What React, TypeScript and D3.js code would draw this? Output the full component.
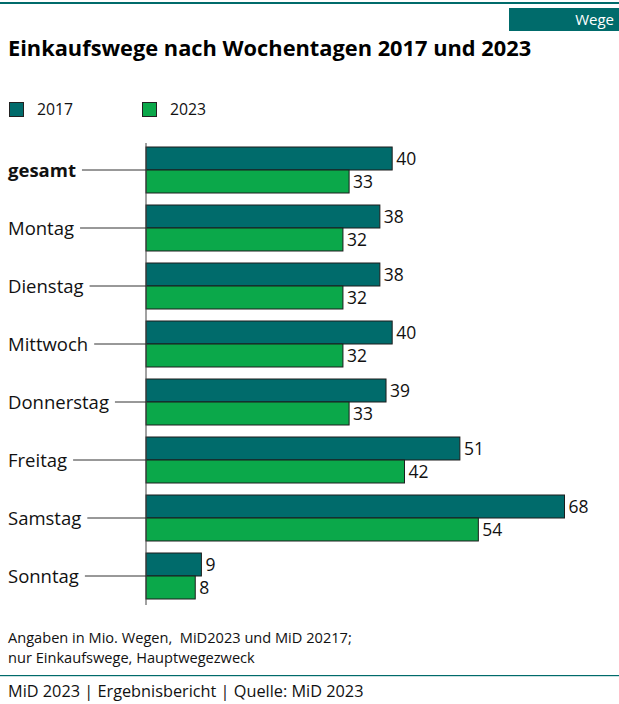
import { useEffect, useRef } from 'react';
import * as d3 from 'd3';

const categories = ['gesamt', 'Montag', 'Dienstag', 'Mittwoch', 'Donnerstag', 'Freitag', 'Samstag', 'Sonntag'];
const values2017 = [40, 38, 38, 40, 39, 51, 68, 9];
const values2023 = [33, 32, 32, 32, 33, 42, 54, 8];
const seriesLabels = ['2017', '2023'];
const noteLines = ['Angaben in Mio. Wegen,  MiD2023 und MiD 20217;', 'nur Einkaufswege, Hauptwegezweck'];
const footerText = 'MiD 2023 | Ergebnisbericht | Quelle: MiD 2023';

const TEAL = '#006b6b';
const GREEN = '#0ba84a';
const FONT = '"Open Sans", "Noto Sans", sans-serif';

const width = 619;
const height = 704;

export default function App() {
  const svgRef = useRef<SVGSVGElement>(null);

  useEffect(() => {
    if (!svgRef.current) return;
    const svg = d3.select(svgRef.current);
    svg.selectAll('*').remove();
    svg.attr('width', width).attr('height', height).style('font-family', FONT);

    // top rule + tag
    svg.append('rect').attr('x', 0).attr('y', 2).attr('width', width).attr('height', 2).attr('fill', TEAL);
    svg.append('rect').attr('x', 509).attr('y', 8).attr('width', 110).attr('height', 23).attr('fill', TEAL);
    svg.append('text').attr('x', 614).attr('y', 25).attr('text-anchor', 'end')
      .attr('fill', '#fff').style('font-size', '15px').text('Wege');

    svg.append('text').attr('x', 8).attr('y', 56).style('font-size', '21.8px').style('font-weight', 700)
      .attr('fill', '#000').text('Einkaufswege nach Wochentagen 2017 und 2023');

    // legend
    const legendX = [9, 142];
    seriesLabels.forEach((label, i) => {
      svg.append('rect').attr('x', legendX[i] + 0.5).attr('y', 102.5).attr('width', 14).attr('height', 14)
        .attr('fill', i === 0 ? TEAL : GREEN).attr('stroke', '#222').attr('stroke-width', 1);
      svg.append('text').attr('x', legendX[i] + 28).attr('y', 115).style('font-size', '15.8px')
        .attr('fill', '#111').text(label);
    });

    const x = d3.scaleLinear().domain([0, 68]).range([146, 564.5]);
    const y = d3.scaleBand<string>().domain(categories).range([141, 605]).paddingInner(0.207).paddingOuter(0.1035);
    const bh = y.bandwidth() / 2;

    const g = svg.append('g');

    const rows = categories.map((c, i) => ({ c, v: [values2017[i], values2023[i]] }));

    rows.forEach((row) => {
      const y0 = y(row.c)!;
      row.v.forEach((v, k) => {
        const top = y0 + k * bh;
        g.append('rect')
          .attr('x', x(0))
          .attr('y', top)
          .attr('width', x(v) - x(0))
          .attr('height', bh)
          .attr('fill', k === 0 ? TEAL : GREEN)
          .attr('stroke', '#1c1c1c')
          .attr('stroke-width', 1);
        g.append('text')
          .attr('x', x(v) + 4)
          .attr('y', top + bh / 2 + 6.5)
          .style('font-size', '17.5px')
          .attr('fill', '#111')
          .text(v);
      });

      const label = g.append('text')
        .attr('x', 8)
        .attr('y', y0 + bh + 6.5)
        .style('font-size', '18.5px')
        .style('font-weight', row.c === 'gesamt' ? 700 : 400)
        .attr('fill', '#111')
        .text(row.c);
      const len = (label.node() as SVGTextElement).getComputedTextLength();
      g.append('line')
        .attr('x1', 8 + len + 6)
        .attr('x2', x(0))
        .attr('y1', y0 + bh)
        .attr('y2', y0 + bh)
        .attr('stroke', '#333')
        .attr('stroke-width', 1);
    });

    // axis line
    g.append('line').attr('x1', x(0)).attr('x2', x(0)).attr('y1', 143).attr('y2', 605)
      .attr('stroke', '#444').attr('stroke-width', 1);

    // note, two lines in one text element
    const note = svg.append('text').attr('x', 8).attr('y', 643).style('font-size', '14.6px')
      .style('white-space', 'pre').attr('fill', '#111');
    noteLines.forEach((t, i) => {
      note.append('tspan').attr('x', 8).attr('dy', i === 0 ? 0 : 20).text(t);
    });

    svg.append('rect').attr('x', 0).attr('y', 675).attr('width', width).attr('height', 1.2).attr('fill', TEAL);
    svg.append('text').attr('x', 8).attr('y', 697).style('font-size', '16.3px')
      .attr('fill', '#111').text(footerText);
  }, []);

  return (
    <div style={{ position: 'absolute', left: 0, top: 0, width, height, background: '#fff' }}>
      <svg ref={svgRef} style={{ display: 'block' }}></svg>
    </div>
  );
}
